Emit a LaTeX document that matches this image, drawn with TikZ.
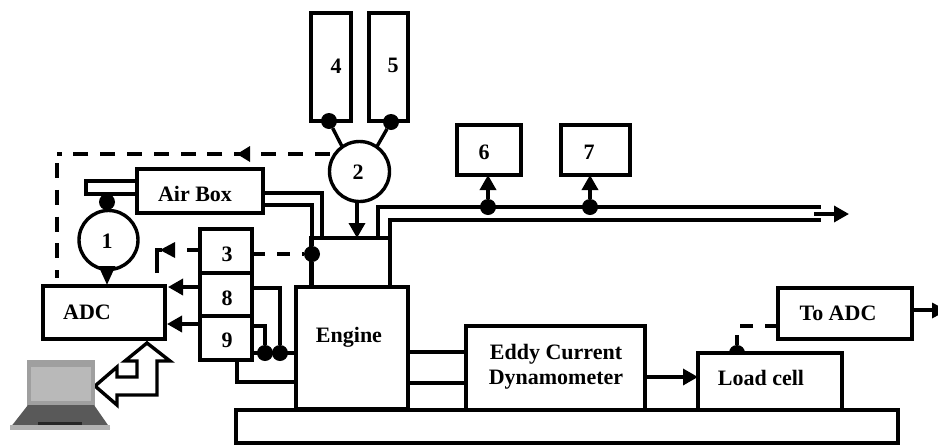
\documentclass[tikz,border=0pt]{standalone}
\usepackage{fontspec}
\setmainfont{Liberation Serif}
\usetikzlibrary{arrows.meta,calc}
\tikzset{
  wire/.style={line width=3.4pt,line cap=butt,line join=miter},
  dashwire/.style={wire,dash pattern=on 15pt off 11.8pt},
  shortdash/.style={wire,dash pattern=on 13pt off 12pt},
  tipped/.style={wire,-{Triangle[length=15pt,width=16pt]}},
  boxn/.style={draw,line width=3.4pt,fill=white,rectangle,inner sep=0pt,outer sep=0pt},
  round/.style={draw,line width=3.4pt,fill=white,circle,inner sep=0pt,outer sep=0pt,minimum size=59pt},
  dot/.style={fill=black,circle,inner sep=0pt,outer sep=0pt,minimum size=16pt},
  lbl/.style={font=\fontsize{22}{24}\selectfont\bfseries,inner sep=0pt,align=center},
}
\begin{document}
\begin{tikzpicture}[x=1pt,y=-1pt]
\clip (0,0) rectangle (938,445);
% base and boxes
\node[boxn,minimum width=662pt,minimum height=33pt] (base) at (567,426.5) {};
\node[boxn,minimum width=79pt,minimum height=49pt] (head) at (350.5,262.5) {};
\node[boxn,minimum width=112pt,minimum height=122pt] (engine) at (352,348) {};
\node[boxn,minimum width=179pt,minimum height=84pt] (eddy) at (555.5,368) {};
\node[dot] (ldot) at (737,353) {};
\node[boxn,minimum width=144pt,minimum height=57pt] (load) at (770,381.5) {};
\node[boxn,minimum width=134pt,minimum height=51pt] (toadc) at (845,313.5) {};
\node[boxn,minimum width=126pt,minimum height=44pt] (air) at (200,191) {};
\node[boxn,minimum width=51pt,minimum height=13pt] (stub) at (111.5,187.5) {};
\node[boxn,minimum width=122pt,minimum height=53pt] (adc) at (104,312.5) {};
\node[boxn,minimum width=52pt,minimum height=44pt] (three) at (226,251) {};
\node[boxn,minimum width=52pt,minimum height=43pt] (eight) at (226,294.5) {};
\node[boxn,minimum width=52pt,minimum height=44pt] (nine) at (226,338) {};
\node[boxn,minimum width=40pt,minimum height=108pt] (four) at (331,67) {};
\node[boxn,minimum width=39pt,minimum height=108pt] (five) at (388.5,67) {};
\node[boxn,minimum width=64pt,minimum height=50pt] (six) at (489,150) {};
\node[boxn,minimum width=69pt,minimum height=50pt] (seven) at (595.5,150) {};
\node[round] (c1) at (108.5,240) {};
\node[round,minimum size=60pt] (c2) at (359.5,171.5) {};
% dots
\node[dot] (d1) at (107,202) {};
\node[dot] (d4) at (329,121) {};
\node[dot] (d5) at (391,122) {};
\node[dot] (d6) at (488,207) {};
\node[dot] (d7) at (590,207) {};
\node[dot] (dm) at (312,254) {};
\node[dot] (d9) at (265,353) {};
\node[dot] (d8) at (280,353) {};
% labels
\node[lbl] (tair) at (195,194) {Air Box};
\node[lbl] (tadc) at (87,312) {ADC};
\node[lbl] (t1) at (107,241) {1};
\node[lbl] (t2) at (358,172) {2};
\node[lbl] (t3) at (227,254) {3};
\node[lbl] (t4) at (336,66) {4};
\node[lbl] (t5) at (393,65) {5};
\node[lbl] (t6) at (484,152) {6};
\node[lbl] (t7) at (589,152) {7};
\node[lbl] (t8) at (227,298) {8};
\node[lbl] (t9) at (227,340) {9};
\node[lbl] (teng) at (349,337) {Engine};
\node[lbl] (tedd) at (556,367) {Eddy Current\\[1pt]Dynamometer};
\node[lbl] (tld) at (761,378) {Load cell};
\node[lbl] (tto) at (838,313) {To ADC};
% free-end coordinates
\coordinate (exA) at (821,207);
\coordinate (exB) at (821,220);
\coordinate (dashcorner) at (57,154);
\coordinate (dashtop) at (57,163);
\coordinate (dashend) at (57,278);
\coordinate (ret) at (157,273);
% air box to engine
\draw[wire] (air.east |- 0,193) -| (322,238);
\draw[wire] (air.east |- 0,205) -| (dm.north);
\draw[wire] (dm.south) -- (dm |- engine.north);
% exhaust
\draw[wire] (378,238) |- (exA);
\draw[wire] (head.north east) |- (exB);
\draw[wire] (head.south east) -- (head.north east);
\draw[wire] (814,214) -- (831,214);
\draw[tipped] (831,214) -- (849,214);
\draw[tipped] (d6) -- (d6 |- six.south);
\draw[tipped] (d7) -- (d7 |- seven.south);
% circle 2
\draw[wire] (d4) -- (c2.125);
\draw[wire] (d5) -- (c2.55);
\draw[tipped] (c2.south -| 357,0) -- (357,238);
% circle 1
\draw[wire,-{Triangle[length=19pt,width=16pt]}] (c1.south -| 107,0) -- (107,285);
% dashed return
\draw[dashwire] (c2.west |- 0,154) -- (dashcorner);
\draw[dashwire] (dashtop) -- (dashend);
\fill (237,154) -- (250,146) -- (250,162) -- cycle;
% sensor lines
\draw[shortdash] (three.east |- dm) -- (dm);
\draw[wire] (three.west |- 0,250) -- (187,250);
\draw[wire] (ret) |- (162,250);
\fill (160,250) -- (175,242) -- (175,258) -- cycle;
\draw[tipped] (eight.west |- 0,287) -- (168,287);
\draw[tipped] (nine.west |- 0,324) -- (167,324);
\draw[wire] (eight.east |- 0,288) -| (d8);
\draw[wire] (nine.east |- 0,326) -| (d9);
\draw[wire] (nine.east |- 0,353) -- (engine.west |- 0,353);
\draw[wire] (nine.south -| 237,0) |- (engine.west |- 0,382);
% engine to dynamometer to load cell
\draw[wire] (engine.east |- 0,352) -- (eddy.west |- 0,352);
\draw[wire] (engine.east |- 0,383) -- (eddy.west |- 0,383);
\draw[tipped] (eddy.east |- 0,377) -- (load.west |- 0,377);
% load cell to ADC
\draw[shortdash] (toadc.west |- 0,326) -- (737,326) -- (ldot);
\draw[wire] (toadc.east |- 0,310) -- (932,310);
\fill (932,302.5) -- (947,310.5) -- (932,318.5) -- cycle;
% double hollow arrow
\draw[wire,fill=white] (147,343) -- (170,361) -- (157,361) -- (157,395) -- (117,395) -- (117,405) -- (95,386)
  -- (117,367) -- (117,377) -- (137,377) -- (137,361) -- (125,361) -- cycle;
% laptop
\fill[gray!75] (27,360) rectangle (95,407);
\fill[gray!55] (31,367) rectangle (91,401);
\fill[black!65] (28,405) -- (94,405) -- (110,428) -- (10,428) -- cycle;
\fill[gray!60] (10,425) rectangle (110,430);
\fill[black!85] (38,422) rectangle (82,425);
\end{tikzpicture}
\end{document}
